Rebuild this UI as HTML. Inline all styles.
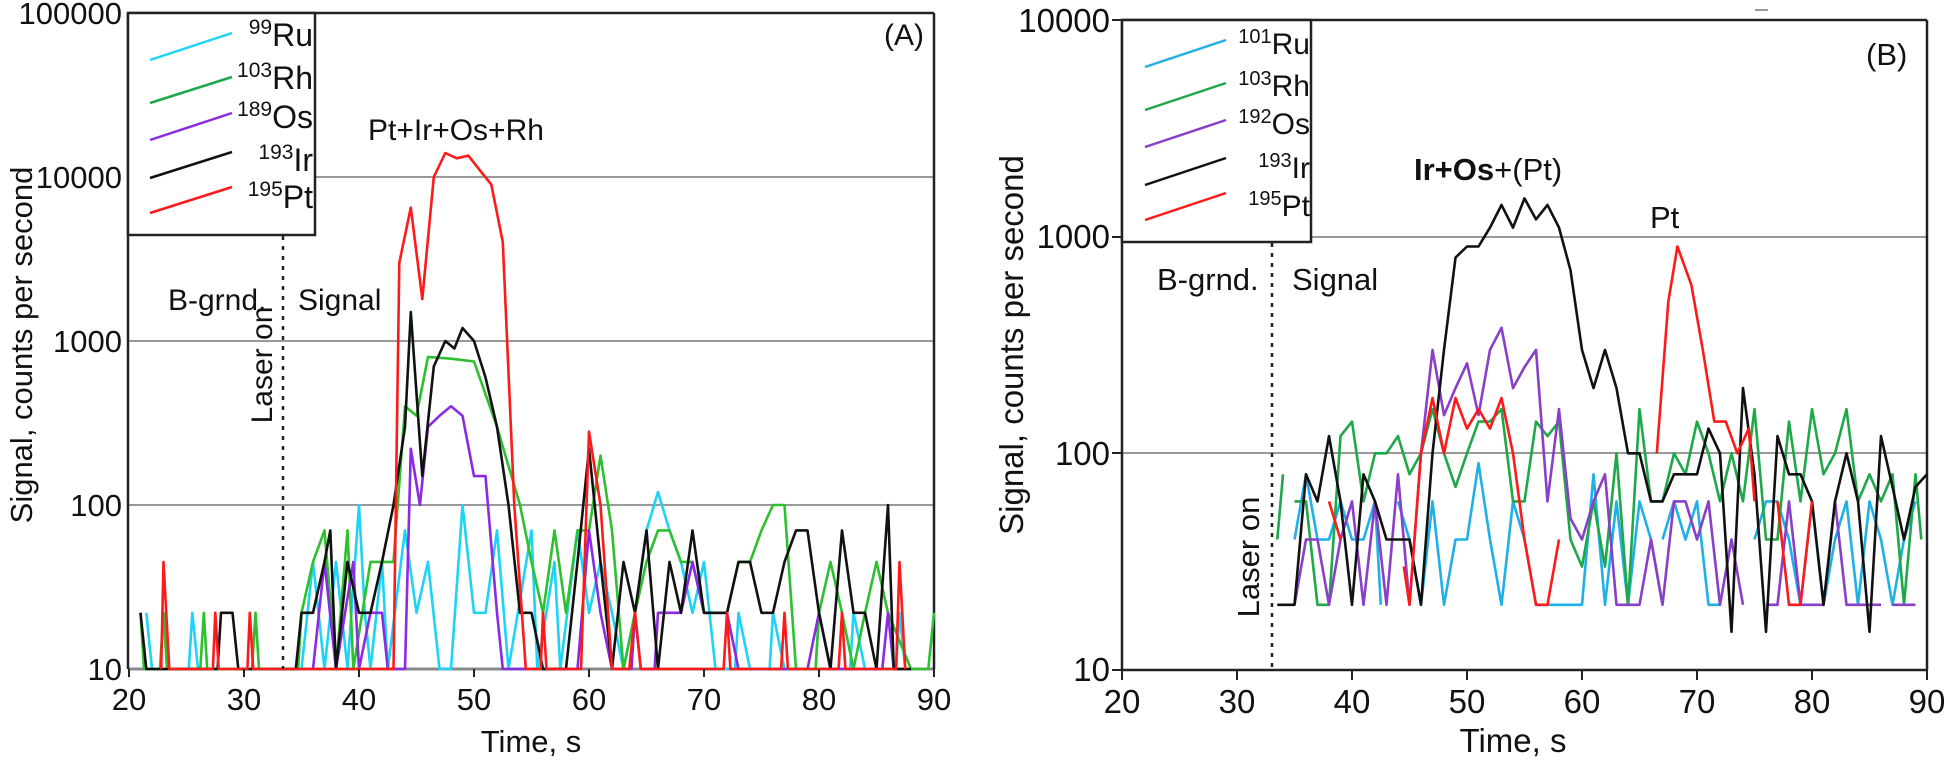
<!DOCTYPE html>
<html><head><meta charset="utf-8"><style>
html,body{margin:0;padding:0;background:#fff;}
svg{display:block;font-family:"Liberation Sans",sans-serif;}
</style></head><body>
<svg id="s" width="1950" height="761" viewBox="0 0 1950 761" xmlns="http://www.w3.org/2000/svg">
<rect width="1950" height="761" fill="#fff"/>
<g stroke="#999" stroke-width="2">
<line x1="315" y1="177" x2="934" y2="177"/>
<line x1="128" y1="341" x2="934" y2="341"/>
<line x1="128" y1="505" x2="934" y2="505"/>
</g>
<g stroke="#888" stroke-width="3"><line x1="128" y1="669" x2="934" y2="669"/></g>
<g stroke="#222" stroke-width="2.5" fill="none">
<line x1="128" y1="13" x2="934" y2="13"/>
<line x1="128" y1="13" x2="128" y2="669"/>
<line x1="934" y1="13" x2="934" y2="669"/>
</g>
<g stroke="#999" stroke-width="2">
<line x1="1311" y1="237" x2="1927" y2="237"/>
<line x1="1122" y1="453" x2="1927" y2="453"/>
</g>
<g stroke="#222" stroke-width="2.5" fill="none">
<line x1="1122" y1="20" x2="1927" y2="20"/>
<line x1="1122" y1="20" x2="1122" y2="670"/>
<line x1="1927" y1="20" x2="1927" y2="670"/>
<line x1="1122" y1="670" x2="1927" y2="670"/>
</g>
<line x1="1755" y1="10" x2="1768" y2="10" stroke="#999" stroke-width="2"/>
<g id="series"></g>
<line x1="283" y1="236" x2="283" y2="669" stroke="#222" stroke-width="2.5" stroke-dasharray="4,6"/>
<line x1="1272" y1="243" x2="1272" y2="670" stroke="#222" stroke-width="2.5" stroke-dasharray="4,6"/>
<rect x="128" y="13" width="187" height="222" fill="#fff" stroke="#222" stroke-width="2.5"/>
<g stroke-width="2.5">
<line x1="150" y1="60" x2="232" y2="33" stroke="#1fd3f5"/>
<line x1="150" y1="103" x2="232" y2="77" stroke="#1fa84a"/>
<line x1="150" y1="140" x2="232" y2="113" stroke="#8a2be2"/>
<line x1="150" y1="178" x2="232" y2="152" stroke="#111"/>
<line x1="150" y1="213" x2="232" y2="187" stroke="#ff1a1a"/>
</g>
<g font-size="32" text-anchor="end" fill="#111">
<text x="313" y="46"><tspan font-size="21" dy="-12">99</tspan><tspan dy="12">Ru</tspan></text>
<text x="313" y="89"><tspan font-size="21" dy="-12">103</tspan><tspan dy="12">Rh</tspan></text>
<text x="313" y="128"><tspan font-size="21" dy="-12">189</tspan><tspan dy="12">Os</tspan></text>
<text x="313" y="171"><tspan font-size="21" dy="-12">193</tspan><tspan dy="12">Ir</tspan></text>
<text x="313" y="208"><tspan font-size="21" dy="-12">195</tspan><tspan dy="12">Pt</tspan></text>
</g>
<rect x="1122" y="20" width="189" height="222" fill="#fff" stroke="#222" stroke-width="2.5"/>
<g stroke-width="2.5">
<line x1="1145" y1="67" x2="1226" y2="40" stroke="#1fb0e8"/>
<line x1="1145" y1="110" x2="1226" y2="83" stroke="#1fa84a"/>
<line x1="1145" y1="147" x2="1226" y2="120" stroke="#8a3fc8"/>
<line x1="1145" y1="185" x2="1226" y2="158" stroke="#111"/>
<line x1="1145" y1="220" x2="1226" y2="193" stroke="#ff1a1a"/>
</g>
<g font-size="30" text-anchor="end" fill="#111">
<text x="1310" y="54"><tspan font-size="20" dy="-11">101</tspan><tspan dy="11">Ru</tspan></text>
<text x="1310" y="96"><tspan font-size="20" dy="-11">103</tspan><tspan dy="11">Rh</tspan></text>
<text x="1310" y="134"><tspan font-size="20" dy="-11">192</tspan><tspan dy="11">Os</tspan></text>
<text x="1310" y="178"><tspan font-size="20" dy="-11">193</tspan><tspan dy="11">Ir</tspan></text>
<text x="1310" y="216"><tspan font-size="20" dy="-11">195</tspan><tspan dy="11">Pt</tspan></text>
</g>
<g font-size="31" fill="#111" text-anchor="end">
<text x="122" y="24">100000</text>
<text x="122" y="188">10000</text>
<text x="122" y="352">1000</text>
<text x="122" y="516">100</text>
<text x="122" y="680">10</text>
</g>
<g font-size="31" fill="#111" text-anchor="middle">
<text x="129" y="710">20</text><text x="244" y="710">30</text><text x="359" y="710">40</text><text x="474" y="710">50</text><text x="589" y="710">60</text><text x="704" y="710">70</text><text x="819" y="710">80</text><text x="934" y="710">90</text>
<text x="531" y="752">Time, s</text>
<text transform="translate(32,345) rotate(-90)">Signal, counts per second</text>
</g>
<g stroke="#222" stroke-width="2"><line x1="129" y1="669" x2="129" y2="677"/><line x1="244" y1="669" x2="244" y2="677"/><line x1="359" y1="669" x2="359" y2="677"/><line x1="474" y1="669" x2="474" y2="677"/><line x1="589" y1="669" x2="589" y2="677"/><line x1="704" y1="669" x2="704" y2="677"/><line x1="819" y1="669" x2="819" y2="677"/><line x1="934" y1="669" x2="934" y2="677"/></g>
<g font-size="30" fill="#111">
<text x="368" y="140">Pt+Ir+Os+Rh</text>
<text x="168" y="310">B-grnd.</text>
<text x="298" y="310">Signal</text>
<text x="884" y="45">(A)</text>
<text transform="translate(272,365) rotate(-90)" text-anchor="middle">Laser on</text>
</g>
<g font-size="33" fill="#111" text-anchor="end">
<text x="1110" y="32">10000</text>
<text x="1110" y="248">1000</text>
<text x="1110" y="465">100</text>
<text x="1110" y="681">10</text>
</g>
<g stroke="#222" stroke-width="2"><line x1="1112" y1="20" x2="1122" y2="20"/><line x1="1112" y1="237" x2="1122" y2="237"/><line x1="1112" y1="453" x2="1122" y2="453"/><line x1="1112" y1="670" x2="1122" y2="670"/>
<line x1="1122" y1="670" x2="1122" y2="680"/><line x1="1237" y1="670" x2="1237" y2="680"/><line x1="1352" y1="670" x2="1352" y2="680"/><line x1="1467" y1="670" x2="1467" y2="680"/><line x1="1582" y1="670" x2="1582" y2="680"/><line x1="1697" y1="670" x2="1697" y2="680"/><line x1="1812" y1="670" x2="1812" y2="680"/><line x1="1927" y1="670" x2="1927" y2="680"/></g>
<g font-size="33" fill="#111" text-anchor="middle">
<text x="1122" y="713">20</text><text x="1237" y="713">30</text><text x="1352" y="713">40</text><text x="1467" y="713">50</text><text x="1582" y="713">60</text><text x="1697" y="713">70</text><text x="1812" y="713">80</text><text x="1927" y="713">90</text>
<text x="1513" y="752">Time, s</text>
<text transform="translate(1023,345) rotate(-90)">Signal, counts per second</text>
</g>
<g font-size="31" fill="#111">
<text x="1157" y="290">B-grnd.</text>
<text x="1292" y="290">Signal</text>
<text x="1414" y="180"><tspan font-weight="bold">Ir+Os</tspan>+(Pt)</text>
<text x="1650" y="228">Pt</text>
<text x="1866" y="65">(B)</text>
<text transform="translate(1259,557) rotate(-90)" text-anchor="middle">Laser on</text>
</g>
</svg>
<script>
var g=document.getElementById('series');
function draw(data,col,P){
  var segs=data.split('|');
  segs.forEach(function(seg){
    var pts=seg.trim().split(/\s+/).map(function(p){var a=p.split(':');var t=+a[0],v=+a[1];if(v<10)v=10;
      var x=P.x0+(t-20)*P.sx; var y=P.y10-(Math.log10(v)-1)*P.dec; return x.toFixed(1)+','+y.toFixed(1);});
    var pl=document.createElementNS('http://www.w3.org/2000/svg','polyline');
    pl.setAttribute('points',pts.join(' '));pl.setAttribute('fill','none');pl.setAttribute('stroke',col);pl.setAttribute('stroke-width','2.6');pl.setAttribute('stroke-linejoin','round');
    g.appendChild(pl);
  });
}
var A={x0:129,sx:11.5,y10:669,dec:164};
var B={x0:1122,sx:11.5,y10:670,dec:216.7};
draw("21.5:22 22:10 22.7:10 23:22 23.5:10 25.2:10 25.5:22 26:10 35:10 36:45 37:10 38:45 39:10 40:100 40.5:22 41:10 42:45 42.5:10 44:70 45:22 46:45 47:10 48:10 49:100 50:22 51:22 52:70 53:10 55:70 55.5:10 57:45 57.5:10 59:70 60:22 61:45 62:22 63:10 64:22 65:70 66:120 67:70 68:45 69:22 70:45 71:10 72.7:10 73:22 74:10 75.7:10 76:22 77:10 79.7:10 80:22 81:10 82.7:10 83:22 84:10 86.7:10 87:22 87.5:10","#1fd3f5",A);
draw("21:22 21.3:10 22.7:10 23:22 23.3:10 26.2:10 26.5:22 26.8:10 30.7:10 31:22 31.3:10 34.7:10 35:22 36:45 37:70 38:10 39:70 39.5:10 41:45 42:45 43:45 44:400 45:350 46:800 48:780 50:750 52:300 54:100 55:45 56:22 57:70 58:22 59:70 60:70 61:200 62:70 63:10 64:22 65:45 66:70 67:70 68:45 69:45 70:22 71:22 72:22 73:45 74:45 75:70 76:100 77:100 78:10 79.7:10 80:22 81:45 82:22 83:10 84:22 85:45 86:22 88:10 89.5:10 90:22","#2ec02e",A);
draw("36:10 37:45 38:10 39.5:45 40:10 41:22 42:22 42.5:10 44:10 44.5:220 45.3:100 46:300 47:350 48:400 49:350 50:150 51:150 52:22 52.5:10 59:10 60:70 61:22 62:10 63.7:10 64:22 64.5:10 65.7:10 66:22 67:22 68:22 69:45 70:22 72:22 73:10 79:10 80:22 81:10 85.5:10 86:22 86.5:10","#8a2be2",A);
draw("21:22 21.5:10 27.7:10 28:22 29:22 29.5:10 34.5:10 35:22 36:22 37:45 37.5:70 38:10 39:45 40:22 41:22 42:45 43:100 44:300 44.5:1500 45.5:150 46.5:700 47.5:1000 48.3:900 49:1200 50:1000 51:600 52:300 53:100 54:22 55:22 56:10 58:10 59:45 60:220 61:45 62:10 63:45 64:22 65:70 66:10 67:45 68:22 69:70 70:22 71:22 72:22 73:45 74:45 75:22 76:22 77:45 78:70 79:70 80:22 81:10 82:70 83:22 84:22 85:10 86:100 86.5:10 88:10","#111",A);
draw("22.8:10 23:45 23.5:10 27.3:10 27.5:22 27.8:10 30.3:10 30.5:22 30.8:10 43:10 43.5:3000 44.5:6500 45.5:1800 46.5:10000 47.5:14000 48.5:13000 49.5:13500 50.5:11000 51.5:9000 52.5:4000 53.5:100 54.5:10 55.8:10 56:22 56.3:10 59.3:10 60:280 61:100 62:10 63.5:10 64:22 64.5:10 71.7:10 72:22 72.3:10 76.7:10 77:22 77.3:10 81.7:10 82:22 82.3:10 86.7:10 87:45 87.5:10","#ff1a1a",A);
draw("35:40 36:80 37:40 38:40 39:60 40:40 41:40 42:60 42.5:20|44:60 45:40 46:20 47:60 48:20 49:40 50:40 51:90 52:40 53:20 54:60 55:40 56:20 57:20 58:20 59:20 60:20 61:80 62:20 63:60 64:20 65:60 66:40 67:20|67:40 68:60 69:40 70:60 71:20 72:20|75:40 76:60 77:60 78:40 79:20 80:60 81:20 82:40 83:60 84:20 85:60 86:40 87:20 88:40 89:60","#1fb0e8",B);
draw("33.5:40 34:80|35:60 36:60 37:20 38:20 39:120 40:140 41:60 42:100 43:100 44:120 45:80 46:100 47:160 48:100 49:70 50:100 51:140 52:140 53:160 54:60 55:60 56:140 57:120 58:140 59:40 60:30 61:60 62:30 63:100 64:20 65:160 66:60 67:60 68:100 69:80 70:140 71:100 72:60 73:100 74:60 75:160 76:40 77:40 78:140 79:60 80:160 81:80 82:100 83:160 84:60 85:80 86:60 87:80 88:20 89:80 89.5:40","#1fa84a",B);
draw("35:20 36:40 37:40 38:20 39:40 40:60 41:20 42:60 43:20 44:80 45:20 46:100 47:300 48:150 49:200 50:260 51:150 52:300 53:380 54:200 55:250 56:300 57:60 58:160 59:50 60:40 61:60 62:80 63:20 64:20 65:20 66:40 67:20 68:60 69:60 70:40 71:60 72:20 73:40 74:20|76:20 77:20 78:60 79:20 80:20 81:20 82:60 83:20 84:20 85:20 86:20|87:20 88:20 89:20","#8a3fc8",B);
draw("33.5:20 35:20 36:80 37:60 38:120 39:60 40:20 41:80 42:60 43:40 44:40 45:40 46:20 47:100 48:300 49:800 50:900 51:900 52:1100 53:1400 54:1100 55:1500 56:1200 57:1400 58:1100 59:700 60:300 61:200 62:300 63:200 64:100 65:100 66:60 67:60 68:80 69:80 70:80 71:130 72:100 73:15 74:200 75:80 76:15 77:120 78:80 79:80 80:60 81:20 82:60 83:100 84:60 85:15 86:120 87:70 88:40 89:70 90:80","#111",B);
draw("38:60 39:40|44.5:30 45:20 46:100 47:180 48:100 49:180 50:130 51:160 52:130 53:180 54:100 55:40 56:20 57:20 58:40|66.5:100 67.5:500 68.3:900 69.5:600 70.5:300 71.5:140 72.5:140 73.5:100 74.5:130 75:60|77:60 78:20 79:20 80:60","#ff1a1a",B);
</script>
</body></html>
